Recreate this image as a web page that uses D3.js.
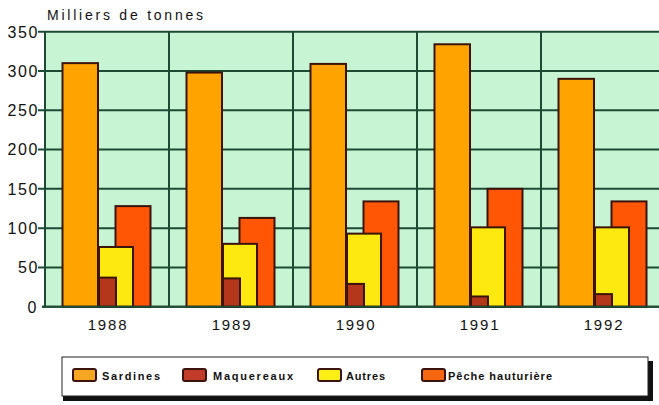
<!DOCTYPE html>
<html>
<head>
<meta charset="utf-8">
<script src="https://cdn.jsdelivr.net/npm/d3@7"></script>
<style>
  body { margin: 0; background: #fff; }
  svg { display: block; font-family: Arial, "Liberation Sans", sans-serif; }
</style>
</head>
<body>
<svg id="chart" width="659" height="405"></svg>
<script>
// values (milliers de tonnes)
const years = ["1988", "1989", "1990", "1991", "1992"];
const sardines = [310, 298, 309, 334, 290];
const maquereaux = [37, 36, 29, 13, 16];
const autres = [76, 80, 93, 101, 101];
const peche = [128, 113, 134, 150, 134];
const yTicks = [0, 50, 100, 150, 200, 250, 300, 350];
const legendLabels = ["Sardines", "Maquereaux", "Autres", "Pêche hauturière"];

const svg = d3.select("#chart");
const plotLeft = 45, plotRight = 665, plotTop = 31.7, plotBottom = 306.7;

const x = d3.scaleBand().domain(years).range([plotLeft, plotRight]).padding(0);
const y = d3.scaleLinear().domain([0, 350]).range([plotBottom, plotTop]);
const bw = x.bandwidth();

const grid = "#1d4a33";
const outline = "#3a140a";

// plot background
svg.append("rect")
  .attr("x", plotLeft).attr("y", y(350))
  .attr("width", plotRight - plotLeft).attr("height", y(0) - y(350))
  .attr("fill", "#c7f4d3");

// horizontal grid + ticks
svg.append("g").selectAll("line")
  .data(yTicks)
  .join("line")
  .attr("x1", d => d === 0 ? plotLeft - 3 : plotLeft - 7).attr("x2", plotRight)
  .attr("y1", d => y(d)).attr("y2", d => y(d))
  .attr("stroke", grid).attr("stroke-width", 2);

// vertical grid at group boundaries
svg.append("g").selectAll("line")
  .data(years)
  .join("line")
  .attr("x1", d => x(d)).attr("x2", d => x(d))
  .attr("y1", y(350)).attr("y2", y(0))
  .attr("stroke", grid).attr("stroke-width", 2);

// y tick labels
svg.append("g").selectAll("text")
  .data(yTicks)
  .join("text")
  .attr("x", d => d === 0 ? 38 : 39)
  .attr("y", d => y(d))
  .attr("dy", "0.37em")
  .attr("text-anchor", "end")
  .attr("font-size", 16)
  .attr("letter-spacing", 1.6)
  .attr("fill", "#111")
  .text(d => d);

// title
svg.append("text")
  .attr("x", 47).attr("y", 20)
  .attr("font-size", 14)
  .attr("textLength", 156)
  .attr("lengthAdjust", "spacing")
  .attr("fill", "#111")
  .text("Milliers de tonnes");

// bars: position inside each band as fraction of band width
const series = [
  { name: "sardines", values: sardines, fill: "#ffa300", x0: 17.5 / 124, x1: 53 / 124 },
  { name: "peche", values: peche, fill: "#ff5606", x0: 70.5 / 124, x1: 105.5 / 124 },
  { name: "autres", values: autres, fill: "#fde80f", x0: 54 / 124, x1: 88 / 124 },
  { name: "maquereaux", values: maquereaux, fill: "#b5371b", x0: 54 / 124, x1: 71 / 124 }
];

series.forEach(s => {
  svg.append("g").selectAll("rect")
    .data(years.map((yr, i) => ({ yr, v: s.values[i] })))
    .join("rect")
    .attr("x", d => x(d.yr) + s.x0 * bw)
    .attr("width", (s.x1 - s.x0) * bw)
    .attr("y", d => y(d.v))
    .attr("height", d => y(0) - y(d.v))
    .attr("fill", s.fill)
    .attr("stroke", outline)
    .attr("stroke-width", 2);
});

// baseline
svg.append("line")
  .attr("x1", plotLeft - 3).attr("x2", plotRight)
  .attr("y1", y(0)).attr("y2", y(0))
  .attr("stroke", grid).attr("stroke-width", 2);

// year labels
svg.append("g").selectAll("text")
  .data(years)
  .join("text")
  .attr("x", d => x(d) + bw / 2 + 1)
  .attr("y", 330)
  .attr("text-anchor", "middle")
  .attr("font-size", 15)
  .attr("letter-spacing", 1.8)
  .attr("fill", "#111")
  .text(d => d);

// legend box with shadow
svg.append("rect")
  .attr("x", 63).attr("y", 361).attr("width", 590).attr("height", 40)
  .attr("fill", "#111");
svg.append("rect")
  .attr("x", 62).attr("y", 357).attr("width", 586).attr("height", 39)
  .attr("fill", "#fff").attr("stroke", "#222").attr("stroke-width", 1);

const legendFills = ["#f7a623", "#c23a2a", "#fbee14", "#f4660f"];
const swatchX = [73, 183, 318, 422];
const textX = [102, 213, 346, 448];
const textW = [58, 80, 39, 104];

const leg = svg.append("g").selectAll("g")
  .data(legendLabels)
  .join("g");

leg.append("rect")
  .attr("x", (d, i) => swatchX[i]).attr("y", 369)
  .attr("width", 23).attr("height", 12)
  .attr("rx", 2)
  .attr("fill", (d, i) => legendFills[i])
  .attr("stroke", outline).attr("stroke-width", 2);

leg.append("text")
  .attr("x", (d, i) => textX[i]).attr("y", 380)
  .attr("font-size", 11)
  .attr("font-weight", "bold")
  .attr("textLength", (d, i) => textW[i])
  .attr("lengthAdjust", "spacing")
  .attr("fill", "#111")
  .text(d => d);
</script>
</body>
</html>
